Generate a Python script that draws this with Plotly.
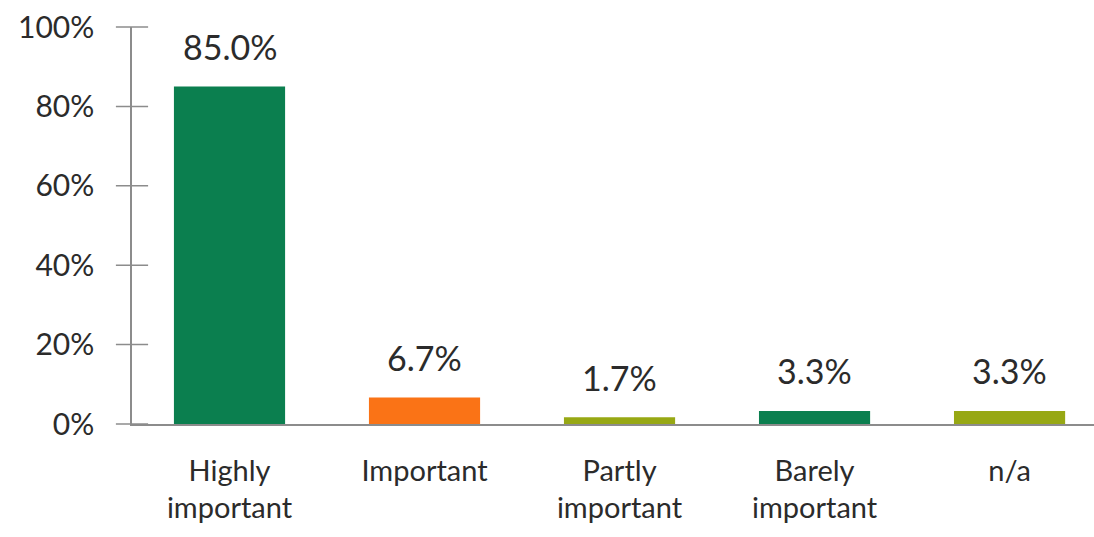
import plotly.graph_objects as go

categories = ["Highly<br>important", "Important", "Partly<br>important", "Barely<br>important", "n/a"]
values = [85.0, 6.7, 1.7, 3.3, 3.3]
labels = ["85.0%", "6.7%", "1.7%", "3.3%", "3.3%"]
colors = ["#0b7f4f", "#fa7316", "#97a814", "#0b7f4f", "#97a814"]
yticks = [0, 20, 40, 60, 80, 100]
ytick_text = ["0%", "20%", "40%", "60%", "80%", "100%"]

FONT = "Lato, Open Sans, sans-serif"
TXT = "#2b2b2b"
AX = "#8c8c8c"

fig = go.Figure()
fig.add_trace(go.Bar(
    x=categories, y=values, marker=dict(color=colors, line=dict(width=0)),
    width=0.57, showlegend=False, hoverinfo="skip",
))
# cross-shaped tick marks on the value axis
fig.add_trace(go.Scatter(
    x=[0] * len(yticks), y=yticks, xaxis="x2", mode="markers",
    marker=dict(symbol="line-ew", size=23, line=dict(color=AX, width=1.5)),
    cliponaxis=False, showlegend=False, hoverinfo="skip",
))

for c, v, t in zip(categories, values, labels):
    fig.add_annotation(x=c, y=v, text=t, showarrow=False, yanchor="middle",
                       yshift=40, font=dict(family=FONT, size=34, color=TXT))

fig.update_layout(
    width=1094, height=537,
    margin=dict(l=132, r=0, t=27, b=113),
    paper_bgcolor="white", plot_bgcolor="white",
    xaxis=dict(range=[-0.5, 4.433], showline=True, linecolor=AX, linewidth=1.5,
               ticks="", showgrid=False, zeroline=False, ticklabelstandoff=20,
               tickfont=dict(family=FONT, size=29, color=TXT)),
    xaxis2=dict(range=[0, 1], overlaying="x", visible=False),
    yaxis=dict(range=[0, 100], tickvals=yticks, ticktext=ytick_text,
               showline=True, linecolor=AX, linewidth=1.5,
               ticks="", showgrid=False, zeroline=False, ticklabelstandoff=30,
               tickfont=dict(family=FONT, size=30, color=TXT)),
)

fig.write_html("out.html")
